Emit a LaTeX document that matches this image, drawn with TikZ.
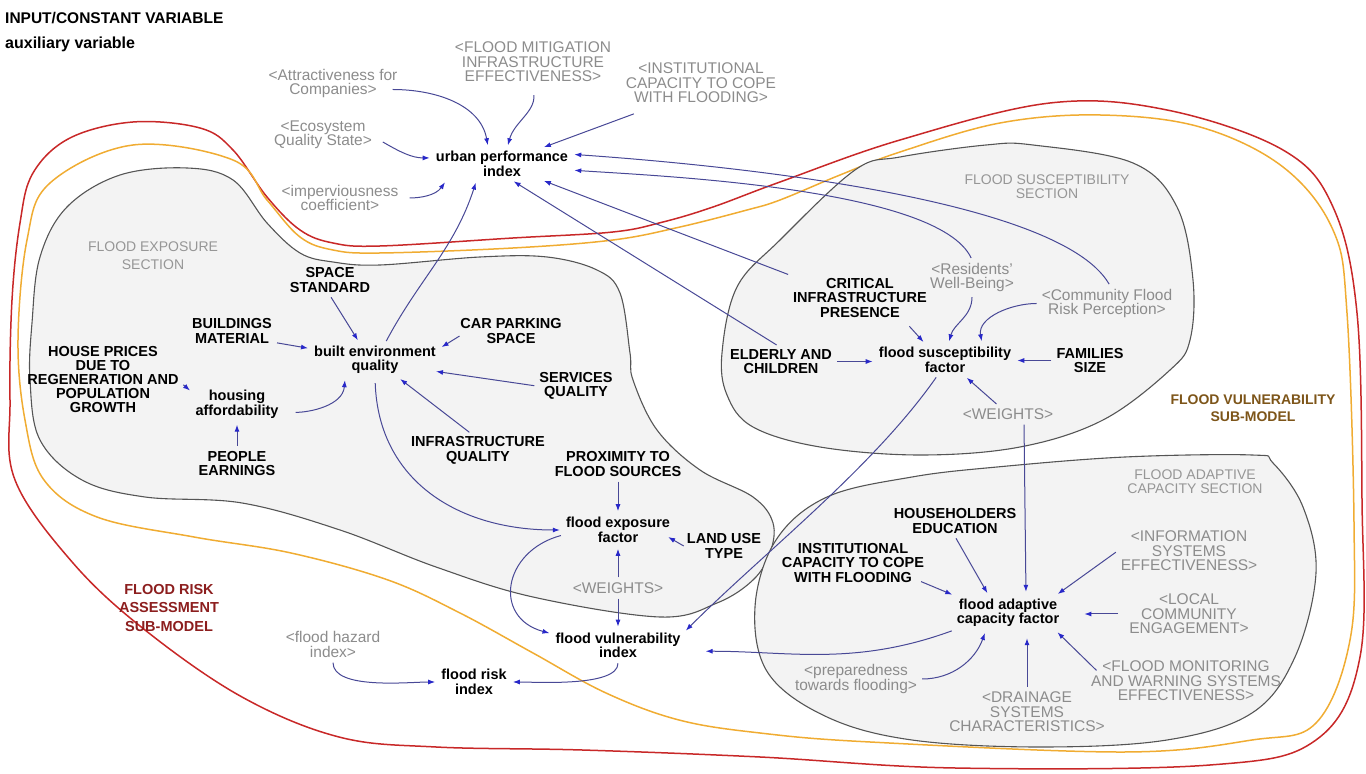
\documentclass[tikz,border=0pt]{standalone}
\usepackage{fontspec}
\setmainfont{Liberation Sans}
\usepackage{xcolor}
\usetikzlibrary{arrows.meta}

\definecolor{linkc}{RGB}{72,72,150}
\definecolor{tipc}{RGB}{40,40,200}
\definecolor{refc}{RGB}{140,140,140}
\definecolor{sectc}{RGB}{150,150,150}
\definecolor{regionc}{RGB}{85,85,85}
\definecolor{regionfill}{RGB}{243,243,243}
\definecolor{riskc}{RGB}{200,40,40}
\definecolor{vulnc}{RGB}{240,172,50}
\definecolor{risktext}{RGB}{140,30,30}
\definecolor{vulntext}{RGB}{125,85,25}

\begin{document}
\begin{tikzpicture}[x=1pt,y=1pt,
  lab/.style={inner sep=3pt, align=center, font=\fontsize{15}{14.5}\selectfont},
  aux/.style={lab, text=black, font=\fontsize{14.5}{14.5}\selectfont\bfseries},
  const/.style={lab, text=black, font=\fontsize{14.5}{14.5}\selectfont\bfseries},
  refvar/.style={lab, text=refc, font=\fontsize{15.5}{14.5}\selectfont},
  sect/.style={lab, text=sectc, font=\fontsize{14}{14}\selectfont},
  model/.style={align=center, font=\fontsize{14.5}{18.5}\selectfont\bfseries},
  region/.style={draw=regionc, fill=regionfill, line width=1.1pt},
  link/.style={draw=linkc, line width=1pt, shorten >=3pt, shorten <=2pt,
    -{Latex[length=7pt,width=5pt,color=tipc]}},
]
\useasboundingbox (0,0) rectangle (1366,774);

% Sub-model outlines
\draw[riskc, line width=1.5pt] plot[smooth cycle, tension=0.6] coordinates {
  (133,652) (200,646) (233,624) (267,577) (300,544) (333,531) (380,528)
  (513,536) (613,542) (663,552) (713,567) (780,592) (900,634) (1050,671)
  (1167,664) (1283,624) (1333,567) (1357,461) (1362,274) (1360,117)
  (1316,34) (1210,9) (955,6) (760,17) (582,24) (436,27) (339,37) (242,77)
  (145,144) (73,211) (15,294) (10,374) (12,474) (20,551) (33,601) (70,636)};
\draw[vulnc, line width=1.5pt] plot[smooth cycle, tension=0.6] coordinates {
  (133,629) (233,614) (267,574) (300,537) (333,524) (380,521) (513,526)
  (613,534) (680,547) (747,564) (780,574) (840,599) (900,622) (1000,651)
  (1100,659) (1200,647) (1283,607) (1333,544) (1347,461) (1354,251)
  (1350,134) (1316,51) (1252,34) (1125,22) (870,32) (760,41) (679,54)
  (606,81) (533,121) (460,161) (388,194) (291,221) (194,237) (97,257)
  (44,294) (25,354) (18,434) (27,534) (50,591)};

% Sections
\draw[region] plot[smooth cycle, tension=0.6] coordinates {
  (187,606) (233,594) (267,551) (300,521) (333,512) (380,509) (480,517)
  (547,517) (597,504) (620,481) (630,421) (633,394) (657,344) (700,304)
  (753,277) (773,251) (770,221) (753,194) (717,171) (660,157) (533,177)
  (436,207) (340,244) (242,271) (145,277) (82,294) (40,334) (30,394)
  (32,451) (40,517) (67,567) (120,599)};
\draw[region] plot[smooth cycle, tension=0.6] coordinates {
  (722,421) (737,487) (780,534) (855,604) (900,617) (986,629) (1033,629)
  (1133,611) (1177,567) (1193,494) (1190,434) (1170,404) (1103,354)
  (1020,327) (920,319) (820,327) (753,347) (727,379)};
\draw[region] plot[smooth cycle, tension=0.6] coordinates {
  (1252,319) (1125,317) (997,307) (912,297) (827,277) (776,234) (755,167)
  (768,101) (827,57) (912,34) (1040,27) (1167,34) (1252,61) (1295,117)
  (1316,201) (1303,267) (1273,311)};

% Legend
\node[anchor=west, inner sep=0pt, font=\fontsize{15.5}{15.5}\selectfont\bfseries] (legin) at (5,756) {INPUT/CONSTANT VARIABLE};
\node[anchor=west, inner sep=0pt, font=\fontsize{16}{16}\selectfont\bfseries] (legaux) at (5,730) {auxiliary variable};

% Urban performance
\node[refvar] (attr) at (333,690.5) {<Attractiveness for\\Companies>};
\node[refvar] (mitig) at (533,712) {<FLOOD MITIGATION\\INFRASTRUCTURE\\EFFECTIVENESS>};
\node[refvar] (instit) at (701,691) {<INSTITUTIONAL\\CAPACITY TO COPE\\WITH FLOODING>};
\node[refvar] (eco) at (323,639) {<Ecosystem\\Quality State>};
\node[aux] (upi) at (502,610) {urban performance\\index};
\node[refvar] (imperv) at (340,576) {<imperviousness\\coefficient>};

% Flood exposure section
\node[sect, font=\fontsize{14}{18}\selectfont] (secexp) at (153,518) {FLOOD EXPOSURE\\SECTION};
\node[const] (space) at (330,494) {SPACE\\STANDARD};
\node[const] (bldg) at (232,443) {BUILDINGS\\MATERIAL};
\node[aux] (bei) at (375,414) {built environment\\quality};
\node[const] (carpark) at (511,443) {CAR PARKING\\SPACE};
\node[const, font=\fontsize{14.5}{13.8}\selectfont\bfseries] (house) at (103,394.5) {HOUSE PRICES\\DUE TO\\REGENERATION AND\\POPULATION\\GROWTH};
\node[aux] (housing) at (237,369.5) {housing\\affordability};
\node[const] (services) at (576,388) {SERVICES\\QUALITY};
\node[const] (people) at (237,310.5) {PEOPLE\\EARNINGS};
\node[const] (infra) at (478,323.5) {INFRASTRUCTURE\\QUALITY};
\node[const] (prox) at (618,310) {PROXIMITY TO\\FLOOD SOURCES};
\node[aux] (fef) at (618,244) {flood exposure\\factor};
\node[const] (landuse) at (724,228) {LAND USE\\TYPE};
\node[refvar] (wexp) at (618,186) {<WEIGHTS>};

% Flood risk
\node[aux] (fvi) at (618,128.5) {flood vulnerability\\index};
\node[model, text=risktext] (riskmodel) at (169,166) {FLOOD RISK\\ASSESSMENT\\SUB-MODEL};
\node[refvar] (hazard) at (333,129.5) {<flood hazard\\index>};
\node[aux] (risk) at (474,92) {flood risk\\index};

% Flood susceptibility section
\node[sect] (secsus) at (1047,587.5) {FLOOD SUSCEPTIBILITY\\SECTION};
\node[const] (crit) at (860,476) {CRITICAL\\INFRASTRUCTURE\\PRESENCE};
\node[refvar] (resid) at (972,496.5) {<Residents'\\Well-Being>};
\node[refvar] (commun) at (1107,470.5) {<Community Flood\\Risk Perception>};
\node[const] (elderly) at (781,412.5) {ELDERLY AND\\CHILDREN};
\node[aux] (fsf) at (945,414) {flood susceptibility\\factor};
\node[const] (families) at (1090,413.5) {FAMILIES\\SIZE};
\node[refvar] (wsus) at (1008,360) {<WEIGHTS>};
\node[model, text=vulntext, font=\fontsize{14}{17}\selectfont\bfseries] (vulnmodel) at (1253,365.5) {FLOOD VULNERABILITY\\SUB-MODEL};

% Flood adaptive capacity section
\node[sect] (secada) at (1195,292) {FLOOD ADAPTIVE\\CAPACITY SECTION};
\node[const] (hhedu) at (955,253) {HOUSEHOLDERS\\EDUCATION};
\node[const] (instcap) at (853,211) {INSTITUTIONAL\\CAPACITY TO COPE\\WITH FLOODING};
\node[refvar] (info) at (1189,223) {<INFORMATION\\SYSTEMS\\EFFECTIVENESS>};
\node[aux] (fac) at (1008,161) {flood adaptive\\capacity factor};
\node[refvar] (local) at (1189,160) {<LOCAL\\COMMUNITY\\ENGAGEMENT>};
\node[refvar] (prep) at (856,95) {<preparedness\\towards flooding>};
\node[refvar] (monitor) at (1186,93) {<FLOOD MONITORING\\AND WARNING SYSTEMS\\EFFECTIVENESS>};
\node[refvar] (drain) at (1027,62) {<DRAINAGE\\SYSTEMS\\CHARACTERISTICS>};

% Links into urban performance index
\draw[link] ([shift={(-10,-6)}]attr.east) to[out=0,in=100] (upi.131);
\draw[link, shorten <=10pt] (mitig.south) to[out=-85,in=75] (upi.72);
\draw[link] ([shift={(13,-7)}]instit.south west) -- (upi.22);
\draw[link] ([shift={(6,-6)}]eco.east) to[out=-30,in=180] (upi.175);
\draw[link, shorten <=8pt] (imperv.east) to[out=0,in=-125] ([xshift=14]upi.south west);
\draw[link] (bei.59) to[out=62,in=-108] (upi.212);
\draw[link] (elderly.100) -- (upi.-60);
\draw[link] (crit.north west) -- (upi.-22);
\draw[link] (commun.80) to[out=120,in=-4,looseness=0.5] (upi.8);
\draw[link] (resid.north) to[out=115,in=-4,looseness=0.5] (upi.-5);

% Links of the exposure section
\draw[link] (space.south) -- (bei.132);
\draw[link] (bldg.-15) -- (bei.170);
\draw[link] ([shift={(4,-4)}]carpark.west) -- (bei.10);
\draw[link] (services.west) -- ([shift={(-6,-11)}]bei.east);
\draw[link] ([xshift=-7]infra.north) -- (bei.-37);
\draw[link, shorten <=14pt] (housing.-10) to[out=0,in=-95] (bei.210);
\draw[link] ([yshift=-4]house.east) -- (housing.165);
\draw[link] (people.north) -- (housing.south);
\draw[link, shorten <=6pt] (bei.south) to[out=-88,in=180,looseness=1.1] (fef.west);
\draw[link] (prox.south) -- (fef.north);
\draw[link, shorten >=0pt, shorten <=0pt] (landuse.west) -- ([shift={(-5,-7)}]fef.east);
\draw[link] (wexp.north) -- (fef.south);
\draw[link] (wexp.south) -- (fvi.north);
\draw[link] ([yshift=-5]fef.west) to[out=195,in=165,looseness=1.6] (fvi.170);

% Links of the susceptibility section
\draw[link] ([shift={(-22,-4)}]crit.south east) -- (fsf.141);
\draw[link] (resid.south) to[out=-90,in=75] (fsf.78);
\draw[link] (commun.west) to[out=180,in=100] (fsf.23);
\draw[link] (elderly.east) -- (elderly.east -| fsf.west);
\draw[link] (families.west) -- (families.west -| fsf.east);
\draw[link] ([xshift=-10]wsus.north) -- (fsf.-39);
\draw[link] (fsf.244) to[out=-125,in=45,looseness=0.8] (fvi.11);
\draw[link, shorten >=4pt] ([xshift=16]wsus.south) -- ([xshift=18]fac.north);

% Links of the adaptive capacity section
\draw[link] (hhedu.south) -- (fac.138);
\draw[link] ([shift={(-8,5)}]instcap.south east) -- (fac.162);
\draw[link] (info.west) -- (fac.20);
\draw[link, shorten >=22pt, shorten <=8pt] (local.west) -- (local.west -| fac.east);
\draw[link] ([shift={(10,-14)}]monitor.north west) -- (fac.-20);
\draw[link, shorten >=8pt] (drain.north) -- (drain.north |- fac.south);
\draw[link] (prep.east) to[out=0,in=-110] (fac.218);
\draw[link, shorten >=22pt] (fac.south west) to[out=200,in=0] (fvi.-5);

% Links to flood risk index
\draw[link] (fvi.south) to[out=-90,in=0,looseness=0.6] (risk.east);
\draw[link] (hazard.south) to[out=-90,in=180,looseness=0.7] (risk.west);
\end{tikzpicture}
\end{document}
